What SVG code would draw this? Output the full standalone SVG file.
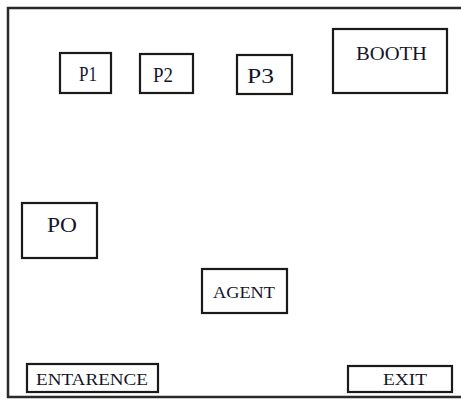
<svg xmlns="http://www.w3.org/2000/svg" width="461" height="399" viewBox="0 0 461 399">
<style>
.box{fill:#fff;stroke:#1a1a1a;stroke-width:2.2}
text{font-family:'Liberation Serif','Times New Roman','DejaVu Serif',serif;fill:#15152a}
</style>
<rect x="0" y="0" width="461" height="399" fill="#fff"/>
<path d="M461,8 H8 V397 H461" fill="none" stroke="#2a2a2a" stroke-width="2.5"/>
<g id="p1"><rect class="box" x="60" y="53" width="51" height="40" stroke-width="2.8"/><text x="79" y="81" font-size="21" textLength="18" lengthAdjust="spacingAndGlyphs">P1</text></g>
<g id="p2"><rect class="box" x="140" y="54" width="53" height="39"/><text x="153" y="82" font-size="21" textLength="20" lengthAdjust="spacingAndGlyphs">P2</text></g>
<g id="p3"><rect class="box" x="237" y="55" width="55" height="39" stroke-width="2.8"/><text x="247" y="83" font-size="21" textLength="27" lengthAdjust="spacingAndGlyphs">P3</text></g>
<g id="booth"><rect class="box" x="333" y="29" width="114" height="64"/><text x="356" y="60" font-size="18" textLength="71" lengthAdjust="spacingAndGlyphs">BOOTH</text></g>
<g id="po"><rect class="box" x="22" y="203" width="75" height="55" stroke-width="2.8"/><text x="47" y="232" font-size="21" textLength="30" lengthAdjust="spacingAndGlyphs">PO</text></g>
<g id="agent"><rect class="box" x="202" y="269" width="85" height="44" stroke-width="1.8"/><text x="213" y="298" font-size="17" textLength="62" lengthAdjust="spacingAndGlyphs">AGENT</text></g>
<g id="entarence"><rect class="box" x="27" y="364" width="131" height="28"/><text x="36" y="385" font-size="17" textLength="112" lengthAdjust="spacingAndGlyphs">ENTARENCE</text></g>
<g id="exit"><rect class="box" x="348" y="366" width="104" height="26"/><text x="383" y="385" font-size="17" textLength="44" lengthAdjust="spacingAndGlyphs">EXIT</text></g>
<g id="connectors"></g>
</svg>
